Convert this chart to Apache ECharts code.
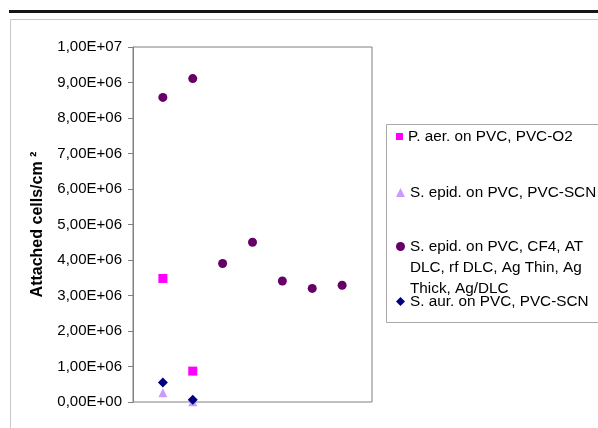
<!DOCTYPE html>
<html>
<head>
<meta charset="utf-8">
<script src="https://cdn.jsdelivr.net/npm/echarts@6/dist/echarts.min.js"></script>
<style>
  html, body { margin: 0; padding: 0; background: #fff; }
  #chart { width: 598px; height: 428px; }
</style>
</head>
<body>
<div id="chart"></div>
<script>
// ---- data ----
const seriesNames = [
  'P. aer. on PVC, PVC-O2',
  'S. epid. on PVC, PVC-SCN',
  'S. epid. on PVC, CF4, AT DLC, rf DLC, Ag Thin, Ag Thick, Ag/DLC',
  'S. aur. on PVC, PVC-SCN'
];
const pAerValues = [3.48e6, 0.87e6];
const sEpidScnValues = [0.26e6, 0.01e6];
const sEpidCoatValues = [8.58e6, 9.11e6, 3.90e6, 4.50e6, 3.41e6, 3.20e6, 3.29e6];
const sAurValues = [0.55e6, 0.06e6];
const yTickLabels = ['0,00E+00', '1,00E+06', '2,00E+06', '3,00E+06', '4,00E+06', '5,00E+06',
  '6,00E+06', '7,00E+06', '8,00E+06', '9,00E+06', '1,00E+07'];
const yAxisTitle = 'Attached cells/cm \u00B2';

const FONT = 'Liberation Sans, Arial, sans-serif';
const toPoints = vals => vals.map((v, i) => [i + 1, v]);

const chart = echarts.init(document.getElementById('chart'), null, { renderer: 'canvas' });

function legendFor(name, top, icon, size, formatterText) {
  return {
    show: true,
    data: [name],
    orient: 'vertical',
    left: 396,
    top: top,
    padding: 0,
    itemWidth: size,
    itemHeight: size,
    itemGap: 0,
    selectedMode: false,
    icon: icon,
    formatter: () => formatterText,
    textStyle: { fontFamily: FONT, fontSize: 15.3, color: '#000', lineHeight: 21 }
  };
}

const option = {
  backgroundColor: '#fff',
  animation: false,
  grid: {
    left: 133, top: 47, width: 239, height: 355,
    show: true, borderColor: '#808080', borderWidth: 1, backgroundColor: 'transparent'
  },
  xAxis: {
    type: 'value', min: 0, max: 8,
    axisLine: { show: false }, axisTick: { show: false },
    axisLabel: { show: false }, splitLine: { show: false }
  },
  yAxis: {
    type: 'value', min: 0, max: 1e7, interval: 1e6,
    name: yAxisTitle,
    nameLocation: 'middle',
    nameRotate: 90,
    nameGap: 87,
    nameTextStyle: { fontFamily: FONT, fontSize: 16, fontWeight: 'bold', color: '#000' },
    axisLine: { show: true, lineStyle: { color: '#808080', width: 1 } },
    axisTick: { show: true, inside: false, length: 5, lineStyle: { color: '#808080' } },
    axisLabel: {
      margin: 11,
      fontFamily: FONT, fontSize: 15, color: '#000',
      formatter: (v, i) => yTickLabels[i]
    },
    splitLine: { show: false }
  },
  legend: [
    legendFor(seriesNames[0], 126, 'rect', 7, 'P. aer. on PVC, PVC-O2'),
    legendFor(seriesNames[1], 182, 'triangle', 9, 'S. epid. on PVC, PVC-SCN'),
    legendFor(seriesNames[2], 194, 'circle', 9, '\n\nS. epid. on PVC, CF4, AT\nDLC, rf DLC, Ag Thin, Ag\nThick, Ag/DLC'),
    legendFor(seriesNames[3], 291, 'diamond', 9, 'S. aur. on PVC, PVC-SCN')
  ],
  graphic: [
    { type: 'rect', z: -10, silent: true, shape: { x: 9, y: 10, width: 600, height: 3 }, style: { fill: '#151515' } },
    { type: 'rect', z: -10, silent: true, shape: { x: 10.5, y: 19.5, width: 700, height: 500 }, style: { fill: 'none', stroke: '#c8c8c8', lineWidth: 1 } },
    { type: 'rect', z: -10, silent: true, shape: { x: 386.5, y: 124.5, width: 300, height: 198 }, style: { fill: 'none', stroke: '#a8a8a8', lineWidth: 1 } }
  ],
  series: [
    {
      name: seriesNames[0], type: 'scatter', symbol: 'rect', symbolSize: 9, clip: false,
      itemStyle: { color: '#FF00FF', opacity: 1 }, data: toPoints(pAerValues)
    },
    {
      name: seriesNames[1], type: 'scatter', symbol: 'triangle', symbolSize: 9, clip: false,
      itemStyle: { color: '#CC99FF', opacity: 1 }, data: toPoints(sEpidScnValues)
    },
    {
      name: seriesNames[2], type: 'scatter', symbol: 'circle', symbolSize: 9, clip: false,
      itemStyle: { color: '#660066', opacity: 1 }, data: toPoints(sEpidCoatValues)
    },
    {
      name: seriesNames[3], type: 'scatter', symbol: 'diamond', symbolSize: 10, clip: false,
      itemStyle: { color: '#000080', opacity: 1 }, data: toPoints(sAurValues)
    }
  ]
};
chart.setOption(option);
</script>
</body>
</html>
